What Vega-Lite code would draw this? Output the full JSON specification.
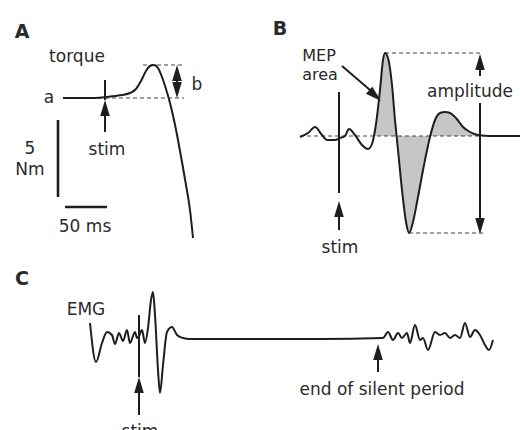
{
  "$schema": "https://vega.github.io/schema/vega-lite/v6.json",
  "width": 520,
  "height": 430,
  "autosize": {"type": "none"},
  "padding": 0,
  "background": "white",
  "config": {"view": {"stroke": null}},
  "datasets": {
    "traces": [
      {"s": "A", "x": 63, "y": 98}, {"s": "A", "x": 80, "y": 98}, {"s": "A", "x": 95, "y": 98}, {"s": "A", "x": 107, "y": 97},
      {"s": "A", "x": 115, "y": 96}, {"s": "A", "x": 122, "y": 95}, {"s": "A", "x": 130, "y": 93}, {"s": "A", "x": 136, "y": 89},
      {"s": "A", "x": 141, "y": 81}, {"s": "A", "x": 146, "y": 71}, {"s": "A", "x": 150, "y": 66}, {"s": "A", "x": 154, "y": 65},
      {"s": "A", "x": 158, "y": 68}, {"s": "A", "x": 162, "y": 77}, {"s": "A", "x": 166, "y": 89}, {"s": "A", "x": 170, "y": 103},
      {"s": "A", "x": 174, "y": 120}, {"s": "A", "x": 178, "y": 140}, {"s": "A", "x": 182, "y": 162}, {"s": "A", "x": 186, "y": 185},
      {"s": "A", "x": 190, "y": 210}, {"s": "A", "x": 193, "y": 238},
      {"s": "B", "x": 300, "y": 137}, {"s": "B", "x": 308, "y": 133}, {"s": "B", "x": 315, "y": 127}, {"s": "B", "x": 322, "y": 135},
      {"s": "B", "x": 327, "y": 140}, {"s": "B", "x": 335, "y": 140}, {"s": "B", "x": 340, "y": 138}, {"s": "B", "x": 345, "y": 136},
      {"s": "B", "x": 349, "y": 129}, {"s": "B", "x": 355, "y": 135}, {"s": "B", "x": 362, "y": 145}, {"s": "B", "x": 368, "y": 149},
      {"s": "B", "x": 372, "y": 144}, {"s": "B", "x": 376, "y": 124}, {"s": "B", "x": 380, "y": 90}, {"s": "B", "x": 383, "y": 60},
      {"s": "B", "x": 385, "y": 53}, {"s": "B", "x": 388, "y": 58}, {"s": "B", "x": 392, "y": 85}, {"s": "B", "x": 395, "y": 120},
      {"s": "B", "x": 398, "y": 150}, {"s": "B", "x": 402, "y": 190}, {"s": "B", "x": 406, "y": 222}, {"s": "B", "x": 409, "y": 233},
      {"s": "B", "x": 413, "y": 222}, {"s": "B", "x": 418, "y": 197}, {"s": "B", "x": 424, "y": 165}, {"s": "B", "x": 430, "y": 137},
      {"s": "B", "x": 435, "y": 120}, {"s": "B", "x": 440, "y": 113}, {"s": "B", "x": 445, "y": 112}, {"s": "B", "x": 450, "y": 113},
      {"s": "B", "x": 456, "y": 118}, {"s": "B", "x": 463, "y": 127}, {"s": "B", "x": 470, "y": 132}, {"s": "B", "x": 478, "y": 135},
      {"s": "B", "x": 490, "y": 136}, {"s": "B", "x": 505, "y": 136}, {"s": "B", "x": 520, "y": 136},
      {"s": "C", "x": 90, "y": 323}, {"s": "C", "x": 96, "y": 362}, {"s": "C", "x": 102, "y": 343}, {"s": "C", "x": 107, "y": 332},
      {"s": "C", "x": 112, "y": 335}, {"s": "C", "x": 115, "y": 344}, {"s": "C", "x": 119, "y": 333}, {"s": "C", "x": 123, "y": 341},
      {"s": "C", "x": 127, "y": 330}, {"s": "C", "x": 130, "y": 343}, {"s": "C", "x": 135, "y": 332}, {"s": "C", "x": 137, "y": 338},
      {"s": "C", "x": 139, "y": 336}, {"s": "C", "x": 142, "y": 330}, {"s": "C", "x": 145, "y": 343}, {"s": "C", "x": 148, "y": 328},
      {"s": "C", "x": 151, "y": 300}, {"s": "C", "x": 153, "y": 292}, {"s": "C", "x": 155, "y": 315}, {"s": "C", "x": 158, "y": 370},
      {"s": "C", "x": 160, "y": 393}, {"s": "C", "x": 163, "y": 365}, {"s": "C", "x": 167, "y": 332}, {"s": "C", "x": 172, "y": 327},
      {"s": "C", "x": 177, "y": 335}, {"s": "C", "x": 183, "y": 338}, {"s": "C", "x": 190, "y": 339}, {"s": "C", "x": 250, "y": 339},
      {"s": "C", "x": 320, "y": 339}, {"s": "C", "x": 383, "y": 338}, {"s": "C", "x": 388, "y": 332}, {"s": "C", "x": 393, "y": 340},
      {"s": "C", "x": 398, "y": 333}, {"s": "C", "x": 402, "y": 338}, {"s": "C", "x": 407, "y": 333}, {"s": "C", "x": 410, "y": 343},
      {"s": "C", "x": 415, "y": 325}, {"s": "C", "x": 420, "y": 340}, {"s": "C", "x": 423, "y": 338}, {"s": "C", "x": 428, "y": 350},
      {"s": "C", "x": 435, "y": 332}, {"s": "C", "x": 440, "y": 335}, {"s": "C", "x": 445, "y": 333}, {"s": "C", "x": 450, "y": 338},
      {"s": "C", "x": 455, "y": 335}, {"s": "C", "x": 460, "y": 338}, {"s": "C", "x": 465, "y": 323}, {"s": "C", "x": 470, "y": 337},
      {"s": "C", "x": 475, "y": 330}, {"s": "C", "x": 480, "y": 335}, {"s": "C", "x": 485, "y": 345}, {"s": "C", "x": 489, "y": 350},
      {"s": "C", "x": 493, "y": 340}
    ],
    "mep": [
      {"x": 374, "y": 136}, {"x": 376, "y": 124}, {"x": 380, "y": 90}, {"x": 383, "y": 60}, {"x": 385, "y": 53},
      {"x": 388, "y": 58}, {"x": 392, "y": 85}, {"x": 395, "y": 120}, {"x": 398, "y": 150}, {"x": 402, "y": 190},
      {"x": 406, "y": 222}, {"x": 409, "y": 233}, {"x": 413, "y": 222}, {"x": 418, "y": 197}, {"x": 424, "y": 165},
      {"x": 430, "y": 137}, {"x": 435, "y": 120}, {"x": 440, "y": 113}, {"x": 445, "y": 112}, {"x": 450, "y": 113},
      {"x": 456, "y": 118}, {"x": 463, "y": 127}, {"x": 470, "y": 132}, {"x": 478, "y": 135}
    ],
    "refLines": [
      {"x": 63, "y": 98, "x2": 184, "y2": 98},
      {"x": 143, "y": 65, "x2": 184, "y2": 65},
      {"x": 300, "y": 136, "x2": 482, "y2": 136},
      {"x": 385, "y": 53, "x2": 483, "y2": 53},
      {"x": 409, "y": 233, "x2": 483, "y2": 233}
    ],
    "pointers": [
      {"x": 105, "y": 80, "x2": 105, "y2": 100},
      {"x": 105, "y": 112, "x2": 105, "y2": 132},
      {"x": 177, "y": 70, "x2": 177, "y2": 93},
      {"x": 339, "y": 92, "x2": 339, "y2": 193},
      {"x": 339, "y": 210, "x2": 339, "y2": 230},
      {"x": 342, "y": 66, "x2": 377, "y2": 96},
      {"x": 480, "y": 60, "x2": 480, "y2": 76},
      {"x": 480, "y": 103, "x2": 480, "y2": 228},
      {"x": 139, "y": 315, "x2": 139, "y2": 377},
      {"x": 139, "y": 390, "x2": 139, "y2": 415},
      {"x": 378, "y": 352, "x2": 378, "y2": 372}
    ],
    "scaleBars": [
      {"x": 58, "y": 120, "x2": 58, "y2": 197},
      {"x": 65, "y": 207, "x2": 107, "y2": 207}
    ],
    "heads": [
      {"x": 105, "y": 100, "dir": "up"},
      {"x": 177, "y": 65, "dir": "up"},
      {"x": 177, "y": 98, "dir": "down"},
      {"x": 339, "y": 201, "dir": "up"},
      {"x": 480, "y": 54, "dir": "up"},
      {"x": 480, "y": 234, "dir": "down"},
      {"x": 139, "y": 377, "dir": "up"},
      {"x": 378, "y": 344, "dir": "up"}
    ],
    "mepHead": [{"x": 381, "y": 101}],
    "labels": [
      {"text": "torque", "x": 77, "y": 62},
      {"text": "a", "x": 49, "y": 103},
      {"text": "b", "x": 197, "y": 90},
      {"text": "stim", "x": 107, "y": 155},
      {"text": "5", "x": 30, "y": 154},
      {"text": "Nm", "x": 30, "y": 175},
      {"text": "50 ms", "x": 85, "y": 232},
      {"text": "amplitude", "x": 470, "y": 97},
      {"text": "stim", "x": 340, "y": 253},
      {"text": "EMG", "x": 86, "y": 315},
      {"text": "end of silent period", "x": 382, "y": 395},
      {"text": "stim", "x": 140, "y": 437}
    ],
    "tightLabels": [
      {"text": "MEP", "x": 319, "y": 61},
      {"text": "area", "x": 320, "y": 80}
    ],
    "panels": [
      {"text": "A", "x": 22, "y": 38},
      {"text": "B", "x": 280, "y": 35},
      {"text": "C", "x": 22, "y": 285}
    ]
  },
  "layer": [
    {
      "data": {"name": "mep"},
      "mark": {"type": "area", "interpolate": "monotone", "color": "#c6c6c6"},
      "encoding": {
        "x": {"field": "x", "type": "quantitative", "scale": {"domain": [0, 520], "nice": false, "zero": false}, "axis": null},
        "y": {"field": "y", "type": "quantitative", "scale": {"domain": [0, 430], "nice": false, "zero": false, "reverse": true}, "axis": null},
        "y2": {"datum": 136}
      }
    },
    {
      "data": {"name": "refLines"},
      "mark": {"type": "rule", "color": "#444", "strokeWidth": 1.2, "strokeDash": [4, 3]},
      "encoding": {
        "x": {"field": "x", "type": "quantitative"},
        "y": {"field": "y", "type": "quantitative"},
        "x2": {"field": "x2"},
        "y2": {"field": "y2"}
      }
    },
    {
      "data": {"name": "traces"},
      "mark": {"type": "line", "interpolate": "monotone", "color": "#1e1e1e", "strokeWidth": 2},
      "encoding": {
        "x": {"field": "x", "type": "quantitative"},
        "y": {"field": "y", "type": "quantitative"},
        "detail": {"field": "s"}
      }
    },
    {
      "data": {"name": "pointers"},
      "mark": {"type": "rule", "color": "#1e1e1e", "strokeWidth": 2},
      "encoding": {
        "x": {"field": "x", "type": "quantitative"},
        "y": {"field": "y", "type": "quantitative"},
        "x2": {"field": "x2"},
        "y2": {"field": "y2"}
      }
    },
    {
      "data": {"name": "scaleBars"},
      "mark": {"type": "rule", "color": "#1e1e1e", "strokeWidth": 2.6},
      "encoding": {
        "x": {"field": "x", "type": "quantitative"},
        "y": {"field": "y", "type": "quantitative"},
        "x2": {"field": "x2"},
        "y2": {"field": "y2"}
      }
    },
    {
      "data": {"name": "heads"},
      "mark": {"type": "point", "filled": true, "opacity": 1, "color": "#1e1e1e", "size": 256, "strokeWidth": 0},
      "encoding": {
        "x": {"field": "x", "type": "quantitative"},
        "y": {"field": "y", "type": "quantitative"},
        "shape": {"field": "dir", "type": "nominal", "scale": {"domain": ["up", "down"], "range": ["M0,0L-0.6,2L0.6,2Z", "M0,0L-0.6,-2L0.6,-2Z"]}, "legend": null}
      }
    },
    {
      "data": {"name": "mepHead"},
      "mark": {"type": "point", "filled": true, "opacity": 1, "color": "#1e1e1e", "size": 256, "strokeWidth": 0, "shape": "M0,0L-0.6,2L0.6,2Z", "angle": 132},
      "encoding": {
        "x": {"field": "x", "type": "quantitative"},
        "y": {"field": "y", "type": "quantitative"}
      }
    },
    {
      "data": {"name": "labels"},
      "mark": {"type": "text", "font": "DejaVu Sans", "fontSize": 17, "color": "#2a2a2a", "align": "center", "baseline": "alphabetic"},
      "encoding": {
        "x": {"field": "x", "type": "quantitative"},
        "y": {"field": "y", "type": "quantitative"},
        "text": {"field": "text"}
      }
    },
    {
      "data": {"name": "tightLabels"},
      "mark": {"type": "text", "font": "DejaVu Sans", "fontSize": 16, "color": "#2a2a2a", "align": "center", "baseline": "alphabetic"},
      "encoding": {
        "x": {"field": "x", "type": "quantitative"},
        "y": {"field": "y", "type": "quantitative"},
        "text": {"field": "text"}
      }
    },
    {
      "data": {"name": "panels"},
      "mark": {"type": "text", "font": "DejaVu Sans", "fontSize": 19, "fontWeight": "bold", "color": "#2a2a2a", "align": "center", "baseline": "alphabetic"},
      "encoding": {
        "x": {"field": "x", "type": "quantitative"},
        "y": {"field": "y", "type": "quantitative"},
        "text": {"field": "text"}
      }
    }
  ]
}
